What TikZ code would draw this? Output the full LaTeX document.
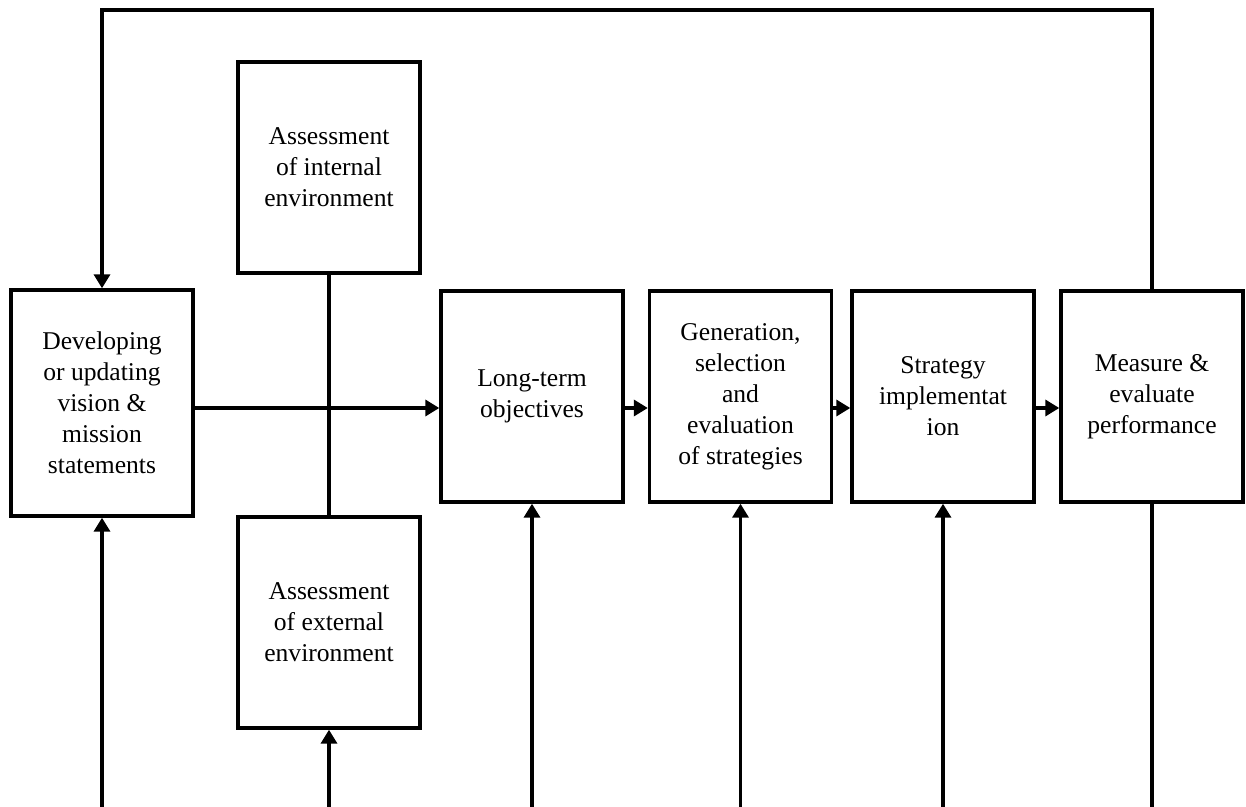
\documentclass[tikz,border=0pt]{standalone}
\usepackage{fontspec}
\setmainfont{Liberation Serif}
\usetikzlibrary{arrows.meta}

\begin{document}
\begin{tikzpicture}[x=0.5pt,y=-0.5pt,line width=1.7pt,
   box/.style={draw,rectangle,align=center,inner sep=2pt,minimum width=91pt,minimum height=105.5pt,
     font=\fontsize{12.8}{15.5}\selectfont},
   arr/.style={-{Triangle[length=7pt,width=8pt]}}]
   \useasboundingbox (0,0) rectangle (1246,807);
   \coordinate (top) at (0,10);
   \coordinate (flow) at (0,408);
   \coordinate (bot) at (0,807);
   % boxes
   \node[box,minimum height=113pt] (dev) at (102,403) {Developing\\or updating\\vision \&\\mission\\statements};
   \node[box] (int) at (329,167.5) {Assessment\\of internal\\environment};
   \node[box] (ext) at (329,622.5) {Assessment\\of external\\environment};
   \node[box] (lt) at (532,396.5) {Long-term\\objectives};
   \node[box] (gen) at (740.5,396.5) {Generation,\\selection\\and\\evaluation\\of strategies};
   \node[box] (strat) at (943,396.5) {Strategy\\implementat\\ion};
   \node[box] (meas) at (1152,396.5) {Measure \&\\evaluate\\performance};
   % feedback loop
   \draw[arr] (meas.north) |- (dev.north |- top) -- (dev.north);
   % main flow
   \draw (int) -- (ext);
   \draw[arr] (dev.east |- flow) -- (lt.west |- flow);
   \draw[arr] (lt.east |- flow) -- (gen.west |- flow);
   \draw[arr] (gen.east |- flow) -- (strat.west |- flow);
   \draw[arr] (strat.east |- flow) -- (meas.west |- flow);
   % inputs from below
   \foreach \n in {dev,ext,lt,gen,strat}
     \draw[arr] (\n.south |- bot) -- (\n.south);
   \draw (meas.south) -- (meas.south |- bot);
\end{tikzpicture}
\end{document}
